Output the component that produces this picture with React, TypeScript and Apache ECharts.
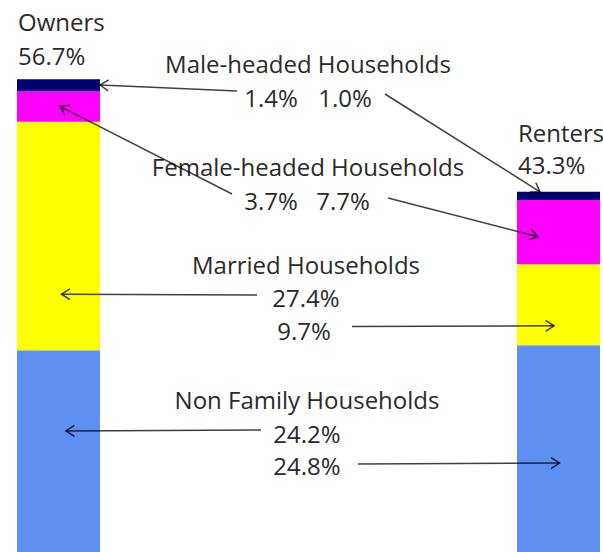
import React, { useEffect, useRef } from "react";
import * as echarts from "echarts";

// ---- data ----
const categories = ["Owners", "Renters"];
const totals = [56.7, 43.3];
const seriesNames = [
  "Non Family Households",
  "Married Households",
  "Female-headed Households",
  "Male-headed Households",
];
const nonFamily = [24.2, 24.8];
const married = [27.4, 9.7];
const femaleHeaded = [3.7, 7.7];
const maleHeaded = [1.4, 1.0];

const stacks = [nonFamily, married, femaleHeaded, maleHeaded];
const colors = ["#5e8ff3", "#ffff00", "#ff00ff", "#00006e"];

const FONT = "'Open Sans', 'DejaVu Sans', sans-serif";
const FS = 24;
const TXT = "#2a2a2a";

const fmt = (v: number) => `${v.toFixed(1)}%`;

// annotation layout (pixel anchors for texts and arrow tails)
const titleLayout = [
  { s: 3, x: 308, y: 63, vals: [{ c: 0, x: 271, y: 97 }, { c: 1, x: 345, y: 97 }] },
  { s: 2, x: 308, y: 166, vals: [{ c: 0, x: 271, y: 200 }, { c: 1, x: 343, y: 200 }] },
  { s: 1, x: 306, y: 264, vals: [{ c: 0, x: 306, y: 297 }, { c: 1, x: 304, y: 330 }] },
  { s: 0, x: 307, y: 399, vals: [{ c: 0, x: 307, y: 433 }, { c: 1, x: 307, y: 465 }] },
];

// arrow: tail pixel, series, category, fraction within segment, x offset from bar centre
const arrows = [
  { tx: 237, ty: 91, s: 3, c: 0, f: 0.5, dx: 41.5 },
  { tx: 385, ty: 94, s: 3, c: 1, f: 1.0, dx: -18.5 },
  { tx: 232, ty: 194, s: 2, c: 0, f: 0.5, dx: 1.5 },
  { tx: 388, ty: 198, s: 2, c: 1, f: 0.43, dx: -20.5 },
  { tx: 257, ty: 295, s: 1, c: 0, f: 0.245, dx: 3 },
  { tx: 352, ty: 326.5, s: 1, c: 1, f: 0.24, dx: -4.5 },
  { tx: 261, ty: 430, s: 0, c: 0, f: 0.6, dx: 7.5 },
  { tx: 358, ty: 464, s: 0, c: 1, f: 0.43, dx: 1 },
];

const catLabelLayout = [
  { x: 18, y1: 21, y2: 55 },
  { x: 518, y1: 132, y2: 164 },
];

export default function App() {
  const ref = useRef<HTMLDivElement>(null);
  useEffect(() => {
    if (!ref.current) return;
    const chart = echarts.init(ref.current, null, { renderer: "svg" });
    chart.setOption({
      animation: false,
      grid: { left: 58.5, right: 44.5, top: 0, bottom: 0 },
      xAxis: { type: "category", data: categories, boundaryGap: false, show: false },
      yAxis: { type: "value", min: 0, max: 66.2, show: false },
      series: stacks.map((d, i) => ({
        name: seriesNames[i],
        type: "bar",
        stack: "total",
        data: d,
        barWidth: 83,
        clip: false,
        itemStyle: { color: colors[i] },
      })),
    });

    const g: any[] = [];
    const textStyle = (text: string, align: string) => ({
      text,
      fontFamily: FONT,
      fontSize: FS,
      fill: TXT,
      align,
      verticalAlign: "middle",
    });
    catLabelLayout.forEach((l, c) => {
      g.push({ type: "text", z: 100, x: l.x, y: l.y1, style: textStyle(categories[c], "left") });
      g.push({ type: "text", z: 100, x: l.x, y: l.y2, style: textStyle(fmt(totals[c]), "left") });
    });
    titleLayout.forEach((t) => {
      g.push({ type: "text", z: 100, x: t.x, y: t.y, style: textStyle(seriesNames[t.s], "center") });
      t.vals.forEach((v) => {
        g.push({ type: "text", z: 100, x: v.x, y: v.y, style: textStyle(fmt(stacks[t.s][v.c]), "center") });
      });
    });
    const L = 10;
    const ang = (33 * Math.PI) / 180;
    arrows.forEach((a) => {
      let base = 0;
      for (let i = 0; i < a.s; i++) base += stacks[i][a.c];
      const v = base + a.f * stacks[a.s][a.c];
      const p = chart.convertToPixel({ gridIndex: 0 }, [categories[a.c], v]) as number[];
      const hx = p[0] + a.dx;
      const hy = p[1];
      const th = Math.atan2(a.ty - hy, a.tx - hx);
      const style = { stroke: "rgba(0,0,0,0.75)", lineWidth: 1.5, fill: "none" };
      g.push({ type: "line", z: 100, shape: { x1: a.tx, y1: a.ty, x2: hx, y2: hy }, style });
      g.push({
        type: "polyline",
        z: 100,
        shape: {
          points: [
            [hx + L * Math.cos(th + ang), hy + L * Math.sin(th + ang)],
            [hx, hy],
            [hx + L * Math.cos(th - ang), hy + L * Math.sin(th - ang)],
          ],
        },
        style,
      });
    });
    chart.setOption({ graphic: g });
    return () => chart.dispose();
  }, []);
  return (
    <div
      ref={ref}
      style={{ position: "absolute", left: 0, top: 0, width: 603, height: 552, background: "#fff" }}
    />
  );
}
